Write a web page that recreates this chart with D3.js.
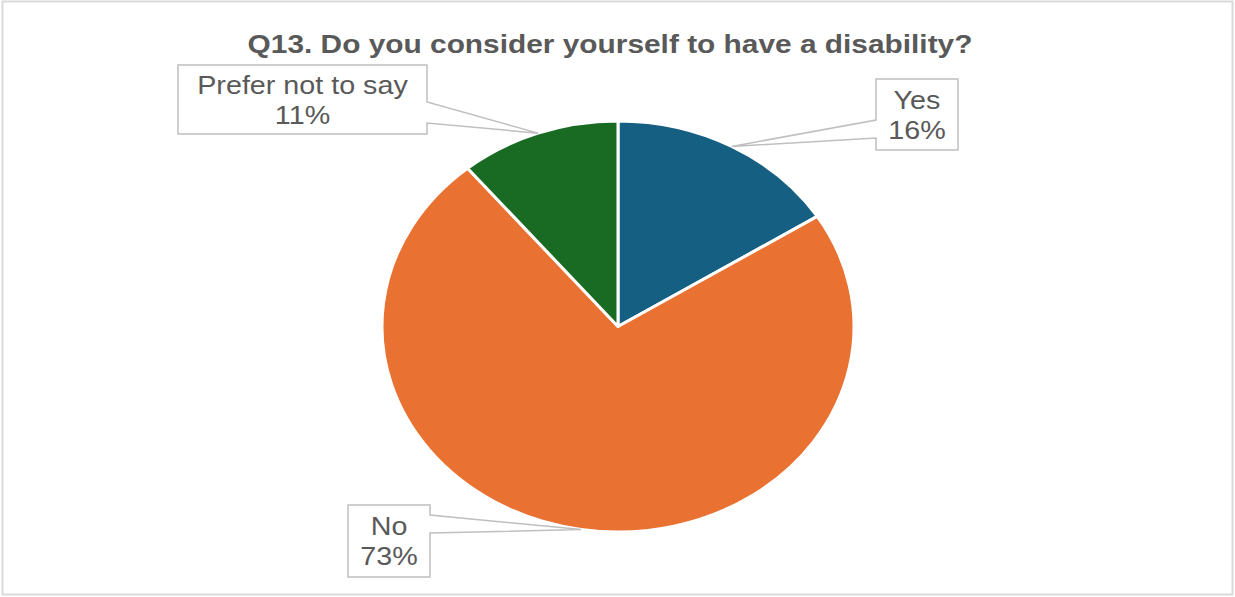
<!DOCTYPE html>
<html>
<head>
<meta charset="utf-8">
<script src="https://cdn.jsdelivr.net/npm/d3@7"></script>
<style>
  html, body { margin: 0; padding: 0; background: #fff; }
  svg { display: block; }
  text { font-family: "Liberation Sans", Arial, sans-serif; }
</style>
</head>
<body>
<svg id="chart" width="1235" height="597"></svg>
<script>
// ---- data ----
const title = "Q13. Do you consider yourself to have a disability?";
const categories = ["Yes", "No", "Prefer not to say"];
const values = [16, 73, 11];
const colors = ["#156082", "#E97132", "#196B24"];

// ---- layout ----
const W = 1235, H = 597;
const cx = 618, cy = 326.5;
const R = 205.5;             // vertical radius
const sx = 236 / 205.5;      // horizontal stretch of the picture
const labelBoxes = [        // callout boxes
  {x: 876, y: 79, w: 82, h: 71, side: "left", n1: 120, n2: 138},
  {x: 348, y: 505, w: 82, h: 72, side: "right", n1: 515, n2: 533},
  {x: 178, y: 65, w: 249, h: 69, side: "right", n1: 102, n2: 123}
];

const svg = d3.select("#chart");

svg.append("rect")
  .attr("x", 2.5).attr("y", 1.5).attr("width", W - 5).attr("height", H - 4)
  .attr("fill", "#fff").attr("stroke", "#d9d9d9").attr("stroke-width", 2);

svg.append("text")
  .attr("transform", `translate(${610},${53}) scale(${sx},1)`)
  .attr("text-anchor", "middle")
  .attr("font-size", 26)
  .attr("font-weight", "bold")
  .attr("fill", "#595959")
  .text(title);

const data = categories.map((c, i) => ({cat: c, value: values[i], color: colors[i]}));
const pie = d3.pie().value(d => d.value).sort(null);
const arcs = pie(data);
const arc = d3.arc().innerRadius(0).outerRadius(R);

const g = svg.append("g").attr("transform", `translate(${cx},${cy}) scale(${sx},1)`);
g.selectAll("path")
  .data(arcs)
  .join("path")
  .attr("d", arc)
  .attr("fill", d => d.data.color)
  .attr("stroke", "#fff")
  .attr("stroke-width", 3)
  .attr("vector-effect", "non-scaling-stroke")
  .attr("stroke-linejoin", "round");

const total = d3.sum(values);
arcs.forEach((a, i) => {
  const b = labelBoxes[i];
  const mid = (a.startAngle + a.endAngle) / 2;
  const tx = cx + sx * R * Math.sin(mid);
  const ty = cy - R * Math.cos(mid);
  let pts;
  if (b.side === "right") {
    const rx = b.x + b.w;
    pts = [[b.x, b.y], [rx, b.y], [rx, b.n1], [tx, ty], [rx, b.n2], [rx, b.y + b.h], [b.x, b.y + b.h]];
  } else {
    pts = [[b.x, b.y], [b.x + b.w, b.y], [b.x + b.w, b.y + b.h], [b.x, b.y + b.h], [b.x, b.n2], [tx, ty], [b.x, b.n1]];
  }
  svg.append("path")
    .attr("d", d3.line()(pts) + "Z")
    .attr("fill", "#fff")
    .attr("stroke", "#bfbfbf")
    .attr("stroke-width", 1.5);
  const tcx = b.x + b.w / 2;
  const lines = [a.data.cat, Math.round(a.data.value / total * 100) + "%"];
  const base = b.y + b.h / 2 - 6;
  lines.forEach((t, k) => {
    svg.append("text")
      .attr("transform", `translate(${tcx},${base + k * 30}) scale(${sx},1)`)
      .attr("text-anchor", "middle")
      .attr("font-size", 25)
      .attr("fill", "#595959")
      .text(t);
  });
});
</script>
</body>
</html>
